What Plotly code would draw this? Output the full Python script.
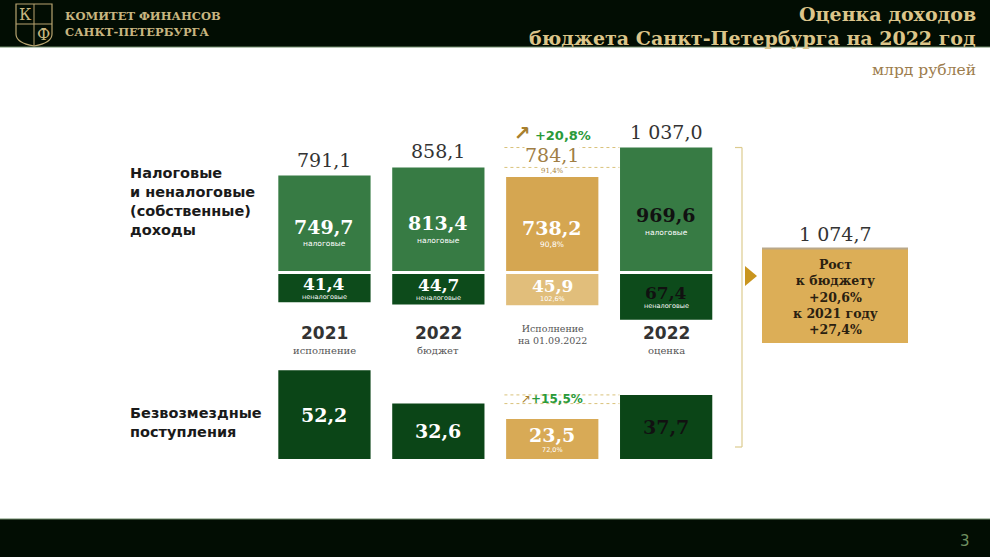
import plotly.graph_objects as go

W, H = 990, 557

# data (млрд рублей)
CATEGORIES = ["2021 исп.", "2022 бюджет", "Исп. 01.09.2022", "2022 оценка"]
YEAR_LABELS = ["2021", "2022", "", "2022"]
SUB_LABELS = ["исполнение", "бюджет", "Исполнение<br>на 01.09.2022", "оценка"]
TAX = [749.7, 813.4, 738.2, 969.6]
NONTAX = [41.4, 44.7, 45.9, 67.4]
GRATUITOUS = [52.2, 32.6, 23.5, 37.7]
EXEC_PCT_OWN = 91.4
EXEC_PCT_TAX = 90.8
EXEC_PCT_NONTAX = 102.6
EXEC_PCT_GRAT = 72.0
GROWTH_OWN = 20.8
GROWTH_GRAT = 15.5
GROWTH_TO_BUDGET = 20.6
GROWTH_TO_2021 = 27.4

EXEC, EST, BUDGET = 2, 3, 1

# colours
DARK = "#020d03"
GOLD_TXT = "#dcc58a"
LOGO = "#c8b680"
TAX_COLORS = ["#377b44", "#377b44", "#d5a651", "#377b44"]
NONTAX_COLORS = ["#0d4b1b", "#0d4b1b", "#e1be7b", "#0d4b1b"]
GRAT_COLORS = ["#0b4517", "#0b4517", "#d8aa56", "#0b4517"]
VALUE_COLORS = ["white", "white", "white", "#111111"]

SERIF = "DejaVu Serif"
SANS = "DejaVu Sans"


def fmt(v):
    return f"{v:,.1f}".replace(",", " ").replace(".", ",")


def pct(v):
    return f"{v:.1f}%".replace(".", ",")


def px(x):
    return x / W


def py(y):
    return 1 - y / H


# axis geometry (pixels -> paper)
X_DOMAIN = [px(267.5), px(723.1)]
TAX_DOM, TAX_RANGE = [py(271), py(122)], [0, 1170]
NONTAX_DOM, NONTAX_RANGE = [py(321.6), py(274)], [70, 0]   # hanging bars
GRAT_DOM, GRAT_RANGE = [py(459), py(357)], [0, 60]

fig = go.Figure()

for vals, colors, yax in [(TAX, TAX_COLORS, "y"), (NONTAX, NONTAX_COLORS, "y2"),
                          (GRATUITOUS, GRAT_COLORS, "y3")]:
    fig.add_trace(go.Bar(
        x=CATEGORIES, y=vals, yaxis=yax,
        marker=dict(color=colors, line=dict(width=0)),
        hoverinfo="skip", showlegend=False,
    ))

ann = []


def add(**kw):
    kw.setdefault("showarrow", False)
    kw.setdefault("xanchor", "center")
    kw.setdefault("yanchor", "middle")
    ann.append(kw)


def sub_font(size=6.5):
    return dict(family=SANS, size=size, color="white")


# totals above own-revenue columns
totals = [t + n for t, n in zip(TAX, NONTAX)]
for i, cat in enumerate(CATEGORIES):
    if i == EXEC:
        add(x=cat, y=TAX[i], xref="x", yref="y", yanchor="bottom", yshift=1,
            text=pct(EXEC_PCT_OWN), font=dict(family=SERIF, size=7, color="#a8843e"),
            bgcolor="white", borderpad=0)
        add(x=cat, y=TAX[i], xref="x", yref="y", yanchor="bottom", yshift=10,
            text=fmt(totals[i]), font=dict(family=SERIF, size=19, color="#a07e45"),
            bgcolor="white", borderpad=0)
    else:
        add(x=cat, y=TAX[i], xref="x", yref="y", yanchor="bottom", yshift=3,
            text=fmt(totals[i]), font=dict(family=SERIF, size=19, color="#333333"))

# values inside bars
for i, cat in enumerate(CATEGORIES):
    c = VALUE_COLORS[i]
    add(x=cat, y=TAX[i] * 0.42, xref="x", yref="y", yshift=4,
        text=f"<b>{fmt(TAX[i])}</b>", font=dict(family=SERIF, size=19, color=c))
    add(x=cat, y=TAX[i] * 0.42, xref="x", yref="y", yshift=-13,
        text=pct(EXEC_PCT_TAX) if i == EXEC else "налоговые", font=sub_font(7.5))

    add(x=cat, y=NONTAX[i] / 2, xref="x", yref="y2", yshift=4,
        text=f"<b>{fmt(NONTAX[i])}</b>", font=dict(family=SERIF, size=17, color=c))
    add(x=cat, y=NONTAX[i] / 2, xref="x", yref="y2", yshift=-9,
        text=pct(EXEC_PCT_NONTAX) if i == EXEC else "неналоговые", font=sub_font())

    if i == EXEC:
        add(x=cat, y=GRATUITOUS[i] / 2, xref="x", yref="y3", yshift=4,
            text=f"<b>{fmt(GRATUITOUS[i])}</b>", font=dict(family=SERIF, size=19, color=c))
        add(x=cat, y=GRATUITOUS[i] / 2, xref="x", yref="y3", yshift=-11,
            text=pct(EXEC_PCT_GRAT), font=sub_font())
    else:
        add(x=cat, y=GRATUITOUS[i] / 2, xref="x", yref="y3",
            text=f"<b>{fmt(GRATUITOUS[i])}</b>", font=dict(family=SERIF, size=19, color=c))

# category captions
for i, cat in enumerate(CATEGORIES):
    if YEAR_LABELS[i]:
        add(x=cat, y=py(333), xref="x", yref="paper",
            text=f"<b>{YEAR_LABELS[i]}</b>", font=dict(family=SANS, size=17, color="#333333"))
        add(x=cat, y=py(350), xref="x", yref="paper",
            text=SUB_LABELS[i], font=dict(family=SERIF, size=10, color="#555555"))
    else:
        add(x=cat, y=py(334), xref="x", yref="paper",
            text=SUB_LABELS[i], font=dict(family=SERIF, size=9.5, color="#555555"))

# growth markers
add(x=EXEC, y=TAX[EST], xref="x", yref="y", yanchor="bottom", yshift=1,
    text=f"<span style='color:#a8802e;font-size:20px'><b>↗</b></span> <b>+{pct(GROWTH_OWN)}</b>",
    font=dict(family=SANS, size=13, color="#2a9a3a"))
add(x=EXEC, y=(GRATUITOUS[EST] + GRATUITOUS[BUDGET]) / 2, xref="x", yref="y3",
    text=f"<span style='color:#a8802e'>↗</span><b>+{pct(GROWTH_GRAT)}</b>",
    font=dict(family=SANS, size=12, color="#2a9a3a"))

# row titles
add(x=px(128), y=py(163), xref="paper", yref="paper", xanchor="left", yanchor="top",
    align="left", text="<b>Налоговые<br>и неналоговые<br>(собственные)<br>доходы</b>",
    font=dict(family=SANS, size=14.5, color="#1a1a1a"))
add(x=px(128), y=py(403), xref="paper", yref="paper", xanchor="left", yanchor="top",
    align="left", text="<b>Безвозмездные<br>поступления</b>",
    font=dict(family=SANS, size=14.5, color="#1a1a1a"))

# header / footer texts
add(x=px(63), y=py(16), xref="paper", yref="paper", xanchor="left",
    text="<b>КОМИТЕТ ФИНАНСОВ</b>", font=dict(family=SERIF, size=11.5, color=LOGO))
add(x=px(63), y=py(32), xref="paper", yref="paper", xanchor="left",
    text="<b>САНКТ-ПЕТЕРБУРГА</b>", font=dict(family=SERIF, size=11.5, color=LOGO))
add(x=px(25), y=py(15), xref="paper", yref="paper", text="К",
    font=dict(family=SERIF, size=16, color=LOGO))
add(x=px(43), y=py(34), xref="paper", yref="paper", text="Ф",
    font=dict(family=SERIF, size=16, color=LOGO))
add(x=px(978), y=py(14), xref="paper", yref="paper", xanchor="right",
    text="<b>Оценка доходов</b>", font=dict(family=SERIF, size=19, color=GOLD_TXT))
add(x=px(978), y=py(38), xref="paper", yref="paper", xanchor="right",
    text="<b>бюджета Санкт-Петербурга на 2022 год</b>",
    font=dict(family=SERIF, size=19, color=GOLD_TXT))
add(x=px(978), y=py(70), xref="paper", yref="paper", xanchor="right",
    text="млрд рублей", font=dict(family=SERIF, size=15.5, color="#9c7c4c"))
add(x=px(965), y=py(541), xref="paper", yref="paper",
    text="3", font=dict(family=SANS, size=15, color="#6f9060"))

# total estimate box
est_total = TAX[EST] + NONTAX[EST] + GRATUITOUS[EST]
add(x=px(835), y=py(234), xref="paper", yref="paper",
    text=fmt(est_total), font=dict(family=SERIF, size=19, color="#333333"))
add(x=px(835), y=py(297), xref="paper", yref="paper",
    text=(f"<b>Рост<br>к бюджету<br>+{pct(GROWTH_TO_BUDGET)}<br>"
          f"к 2021 году<br>+{pct(GROWTH_TO_2021)}</b>"),
    font=dict(family=SERIF, size=12.5, color="#2a2010"))


def tax_paper(v):
    return TAX_DOM[0] + (TAX_DOM[1] - TAX_DOM[0]) * v / TAX_RANGE[1]


BR = "#dccb8f"
shapes = [
    dict(type="rect", xref="paper", yref="paper", x0=0, x1=1, y0=py(47), y1=1,
         fillcolor=DARK, line=dict(width=0), layer="below"),
    dict(type="line", xref="paper", yref="paper", x0=0, x1=1, y0=py(47), y1=py(47),
         line=dict(color="#6d8a68", width=1)),
    dict(type="rect", xref="paper", yref="paper", x0=0, x1=1, y0=0, y1=py(519),
         fillcolor=DARK, line=dict(width=0), layer="below"),
    dict(type="line", xref="paper", yref="paper", x0=0, x1=1, y0=py(519), y1=py(519),
         line=dict(color="#6d8a68", width=1)),
    # logo shield
    dict(type="path", xref="paper", yref="paper",
         path=(f"M {px(16)},{py(4)} L {px(52)},{py(4)} L {px(52)},{py(34)} "
               f"Q {px(52)},{py(43)} {px(34)},{py(46)} Q {px(16)},{py(43)} {px(16)},{py(34)} Z"),
         line=dict(color="#b8a470", width=1.2)),
    dict(type="line", xref="paper", yref="paper", x0=px(34), x1=px(34), y0=py(4), y1=py(46),
         line=dict(color="#b8a470", width=1)),
    dict(type="line", xref="paper", yref="paper", x0=px(16), x1=px(52), y0=py(24), y1=py(24),
         line=dict(color="#b8a470", width=1)),
    # box
    dict(type="rect", xref="paper", yref="paper", x0=px(762), x1=px(908), y0=py(343), y1=py(248),
         fillcolor="#dcae57", line=dict(width=0)),
    dict(type="line", xref="paper", yref="paper", x0=px(762), x1=px(908), y0=py(248.5),
         y1=py(248.5), line=dict(color="#b9a88a", width=2)),
    # bracket + arrow
    dict(type="line", xref="paper", yref="paper", x0=px(742), x1=px(742),
         y0=py(447), y1=tax_paper(TAX[EST]), line=dict(color=BR, width=1.2)),
    dict(type="line", xref="paper", yref="paper", x0=px(735), x1=px(742),
         y0=tax_paper(TAX[EST]), y1=tax_paper(TAX[EST]), line=dict(color=BR, width=1.2)),
    dict(type="line", xref="paper", yref="paper", x0=px(735), x1=px(742),
         y0=py(447), y1=py(447), line=dict(color=BR, width=1.2)),
    dict(type="path", xref="paper", yref="paper",
         path=f"M {px(745)},{py(266)} L {px(757)},{py(276)} L {px(745)},{py(286)} Z",
         fillcolor="#c9951e", line=dict(width=0)),
]

# dotted comparison lines (budget vs estimate)
for v in (TAX[EST], TAX[BUDGET]):
    shapes.append(dict(type="line", xref="x", yref="y", x0=EXEC - 0.42, x1=EST - 0.41,
                       y0=v, y1=v, line=dict(color="#d9c27a", width=1, dash="dot"),
                       layer="below"))
for v in (GRATUITOUS[EST], GRATUITOUS[BUDGET]):
    shapes.append(dict(type="line", xref="x", yref="y3", x0=EXEC - 0.42, x1=EST - 0.41,
                       y0=v, y1=v, line=dict(color="#d9c27a", width=1, dash="dot"),
                       layer="below"))

hidden = dict(visible=False, fixedrange=True)
fig.update_layout(
    width=W, height=H,
    margin=dict(l=0, r=0, t=0, b=0),
    paper_bgcolor="white", plot_bgcolor="rgba(0,0,0,0)",
    bargap=0.19,
    xaxis=dict(domain=X_DOMAIN, type="category", categoryorder="array",
               categoryarray=CATEGORIES, range=[-0.5, 3.5], **hidden),
    yaxis=dict(domain=TAX_DOM, range=TAX_RANGE, anchor="x", **hidden),
    yaxis2=dict(domain=NONTAX_DOM, range=NONTAX_RANGE, anchor="x", **hidden),
    yaxis3=dict(domain=GRAT_DOM, range=GRAT_RANGE, anchor="x", **hidden),
    annotations=ann,
    shapes=shapes,
    showlegend=False,
)

fig.write_html(
    "out.html",
    config={"displayModeBar": False},
    post_script="document.body.style.margin='0';document.body.style.overflow='hidden';",
)
